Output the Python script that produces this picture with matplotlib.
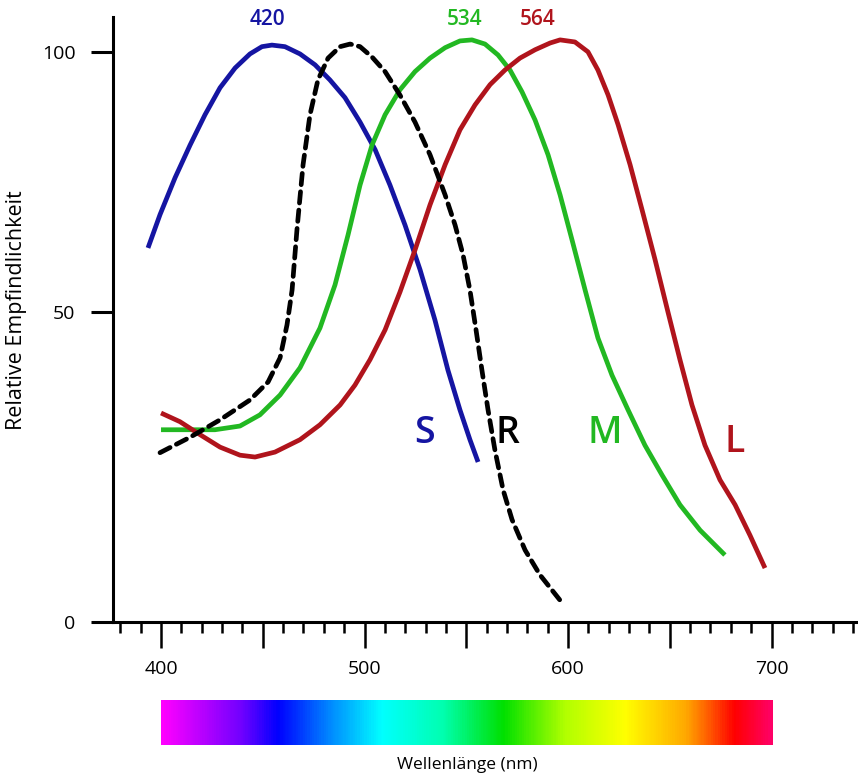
import numpy as np
import matplotlib
matplotlib.use("Agg")
import matplotlib.pyplot as plt
from matplotlib.colors import LinearSegmentedColormap
from matplotlib.ticker import MultipleLocator, FuncFormatter

plt.rcParams['font.family'] = ['Open Sans', 'DejaVu Sans']

# --------------------------------------------------
# data
# --------------------------------------------------
s_wl = [393.6, 399.5, 406.9, 414.3, 421.6, 429.0, 436.4, 443.7, 449.6, 454.5, 460.9,
        468.3, 475.7, 483.0, 490.4, 497.8, 505.2, 512.5, 519.9, 527.3, 534.6,
        541.0, 546.9, 551.8, 555.8]
s_val = [62.3, 68.7, 75.8, 82.1, 87.9, 93.1, 96.9, 99.6, 101.0, 101.3, 101.0,
         99.6, 97.5, 94.6, 91.2, 86.5, 81.2, 74.4, 66.7, 58.1, 48.7,
         40.6, 34.2, 29.4, 25.8]

r_wl = [399.5, 414.3, 429.0, 443.7, 452.6, 458.5, 461.9, 464.4, 466.8, 469.8, 473.2,
        477.1, 482.1, 488.0, 492.9, 497.8, 503.7, 510.1, 517.4, 524.8, 532.2,
        539.6, 544.5, 548.4, 551.8, 554.8, 557.7, 560.7, 564.1, 568.1, 572.5,
        578.9, 586.2, 596.1]
r_val = [27.3, 29.8, 32.6, 35.8, 38.7, 42.6, 47.9, 54.2, 65.8, 78.3, 87.9,
         94.6, 98.8, 101.0, 101.5, 101.0, 99.0, 96.2, 91.7, 86.5, 80.2,
         72.5, 66.7, 61.0, 54.2, 47.1, 40.6, 34.2, 27.7, 21.3, 16.5,
         11.6, 7.6, 3.5]

m_wl = [400.0, 414.3, 426.5, 438.8, 448.6, 458.5, 468.3, 478.1, 485.5, 491.9, 497.8,
        503.7, 510.1, 517.4, 524.8, 532.2, 539.6, 546.9, 552.8, 559.2, 565.6,
        571.5, 577.4, 583.8, 590.2, 596.1, 602.0, 608.4, 614.7, 621.6, 629.5,
        637.8, 646.2, 655.0, 664.9, 677.1]
m_val = [31.0, 31.0, 31.0, 31.6, 33.4, 36.6, 41.0, 47.4, 55.2, 64.8, 74.4,
         82.1, 87.9, 92.7, 96.2, 98.8, 100.8, 102.1, 102.3, 101.5, 99.4,
         96.5, 92.3, 86.9, 80.2, 72.5, 63.8, 54.2, 45.8, 39.8, 34.2,
         28.5, 23.7, 18.9, 14.8, 10.8]

l_wl = [400.0, 409.3, 419.2, 429.0, 438.8, 446.2, 456.0, 468.3, 478.1, 488.0, 495.3,
        502.7, 510.1, 517.4, 524.8, 532.2, 539.6, 546.9, 554.3, 561.7, 569.0,
        576.4, 583.8, 591.2, 596.1, 603.4, 609.8, 614.7, 619.7, 624.6, 630.5,
        636.4, 642.8, 649.1, 655.0, 660.9, 667.3, 674.7, 682.1, 689.4, 696.8]
l_val = [33.7, 32.3, 30.2, 28.2, 26.9, 26.6, 27.4, 29.4, 31.8, 35.0, 38.2,
         42.3, 47.1, 53.8, 61.9, 70.6, 78.3, 85.0, 89.8, 93.7, 96.5,
         98.8, 100.4, 101.7, 102.3, 101.9, 100.0, 96.5, 91.7, 86.0, 78.3,
         69.6, 60.0, 50.0, 42.3, 35.0, 28.5, 22.9, 18.9, 14.0, 8.7]

peak_labels = ["420", "534", "564"]
curve_names = ["S", "R", "M", "L"]

blue = '#1515a2'
green = '#22b822'
red = '#b0141c'

# y axis of the original is not linear (0-50 stretched more than 50-100)
def fwd(v):
    v = np.asarray(v, dtype=float)
    return np.where(v <= 50, v * 6.2, 310 + (v - 50) * 5.2)

def inv(p):
    p = np.asarray(p, dtype=float)
    return np.where(p <= 310, p / 6.2, 50 + (p - 310) / 5.2)

# --------------------------------------------------
# figure
# --------------------------------------------------
fig = plt.figure(figsize=(8.58, 7.76), dpi=100)
ax = fig.add_axes([113 / 858, 154 / 776, 745 / 858, 605 / 776])
ax.set_yscale('function', functions=(fwd, inv))

lw = 3.4
for wl, val, c in [(s_wl, s_val, blue), (m_wl, m_val, green), (l_wl, l_val, red)]:
    ax.plot(wl, val, color=c, lw=lw, solid_capstyle='butt', solid_joinstyle='round')
ax.plot(r_wl, r_val, color='black', lw=lw, linestyle=(0, (2.4, 1.5)),
        dash_capstyle='round', dash_joinstyle='round')

ax.set_xlim(376.4, 742.5)
ax.set_ylim(0, 106.7)

for sp in ['top', 'right']:
    ax.spines[sp].set_visible(False)
for sp in ['left', 'bottom']:
    ax.spines[sp].set_linewidth(2.2)

ax.set_yticks([0, 50, 100])
ax.set_yticklabels(['0', '50', '100'])
ax.yaxis.set_minor_locator(plt.NullLocator())
ax.tick_params(axis='y', length=16, width=2.2, labelsize=14, pad=11)

ax.xaxis.set_major_locator(MultipleLocator(50))
ax.xaxis.set_minor_locator(MultipleLocator(10))
ax.xaxis.set_major_formatter(FuncFormatter(lambda v, p: f"{v:.0f}" if v % 100 == 0 else ""))
ax.tick_params(axis='x', which='major', length=19, width=1.8, labelsize=14, pad=8)
ax.tick_params(axis='x', which='minor', length=8, width=1.8)

ax.set_ylabel("Relative Empfindlichkeit", fontsize=15.5)
ax.yaxis.label.set_va('center')
ax.yaxis.set_label_coords(-0.129, 0.516)

# peak labels
ax.text(452.1, 106.2, peak_labels[0], color=blue, fontsize=15, fontweight='semibold',
        ha='center', va='center')
ax.text(549.4, 106.2, peak_labels[1], color=green, fontsize=15, fontweight='semibold',
        ha='center', va='center')
ax.text(585.3, 106.2, peak_labels[2], color=red, fontsize=15, fontweight='semibold',
        ha='center', va='center')

# curve letters
ax.text(529.7, 30.4, curve_names[0], color=blue, fontsize=27, fontweight='semibold',
        ha='center', va='center')
ax.text(570.0, 30.4, curve_names[1], color='black', fontsize=27, fontweight='semibold',
        ha='center', va='center')
ax.text(618.2, 30.4, curve_names[2], color=green, fontsize=27, fontweight='semibold',
        ha='center', va='center')
ax.text(682.1, 29.0, curve_names[3], color=red, fontsize=27, fontweight='semibold',
        ha='center', va='center')

# spectrum bar
spec = LinearSegmentedColormap.from_list('spec', [
    (0.0, '#ff00ff'), (0.13, '#7000ff'), (0.19, '#0000ff'), (0.28, '#0090ff'),
    (0.36, '#00ffff'), (0.46, '#00ffb0'), (0.56, '#00e000'), (0.66, '#b0ff00'),
    (0.76, '#ffff00'), (0.86, '#ffa800'), (0.94, '#ff0000'), (1.0, '#ff0066')])
cax = fig.add_axes([161 / 858, 31 / 776, 612 / 858, 45 / 776])
cax.imshow(np.linspace(0, 1, 600)[None, :], aspect='auto', cmap=spec, extent=[400, 700, 0, 1])
cax.axis('off')

fig.text(467 / 858, 11 / 776, "Wellenlänge (nm)", fontsize=12.5, ha='center', va='center')

fig.savefig("out.png", dpi=100)
